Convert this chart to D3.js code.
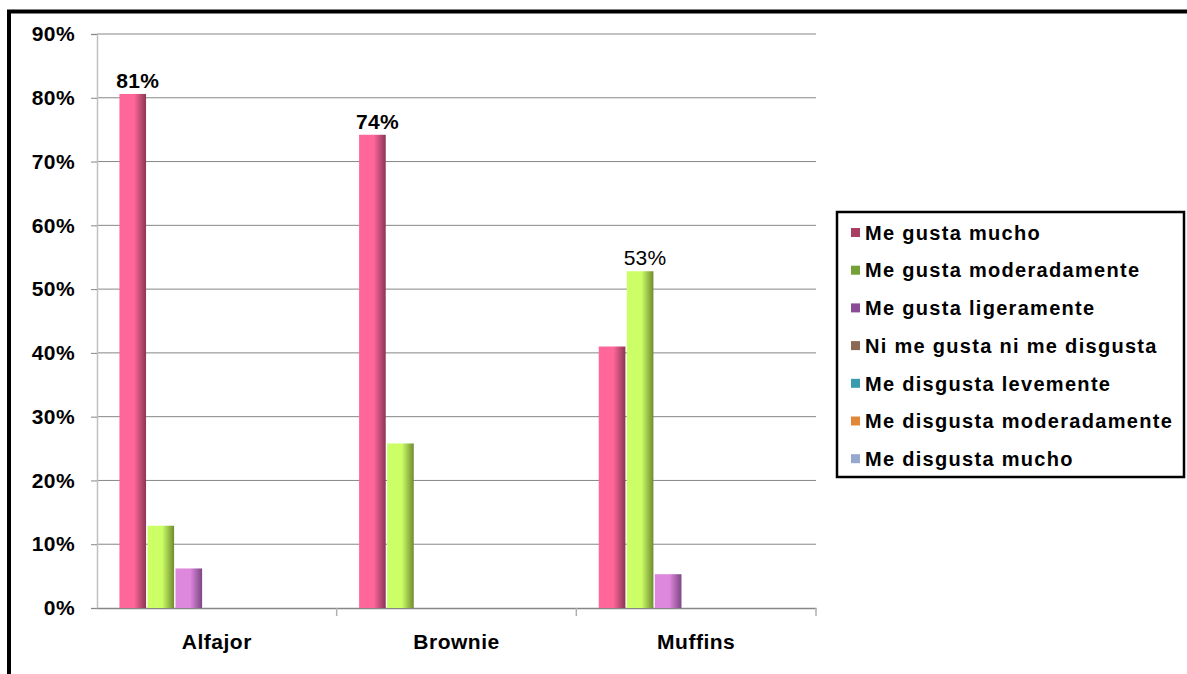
<!DOCTYPE html>
<html>
<head>
<meta charset="utf-8">
<script src="https://cdn.jsdelivr.net/npm/d3@7"></script>
<style>
  html, body { margin: 0; padding: 0; background: #fff; }
  svg { display: block; font-family: "Liberation Sans", Arial, sans-serif; }
</style>
</head>
<body>
<svg id="chart" width="1187" height="674"></svg>
<script>
// Categories, series and values (share of responses, %)
const categories = ["Alfajor", "Brownie", "Muffins"];
const seriesNames = [
  "Me gusta mucho",
  "Me gusta moderadamente",
  "Me gusta ligeramente",
  "Ni me gusta ni me disgusta",
  "Me disgusta levemente",
  "Me disgusta moderadamente",
  "Me disgusta mucho"
];
const meGustaMucho         = [80.6, 74.2, 41.0];
const meGustaModeradamente = [12.9, 25.8, 52.8];
const meGustaLigeramente   = [6.2, 0, 5.3];
const niMeGusta            = [0, 0, 0];
const meDisgustaLevemente  = [0, 0, 0];
const meDisgustaModerada   = [0, 0, 0];
const meDisgustaMucho      = [0, 0, 0];
const seriesValues = [meGustaMucho, meGustaModeradamente, meGustaLigeramente,
  niMeGusta, meDisgustaLevemente, meDisgustaModerada, meDisgustaMucho];
const yTicks = [0, 10, 20, 30, 40, 50, 60, 70, 80, 90];
// Value labels: [series index, category index, bold]
const valueLabels = [[0, 0, true], [0, 1, true], [1, 2, false]];

// Bar fill (light face, shaded edge) and legend swatch colours
const barLight = ["#ff6699", "#ccff66", "#dd88dd", "#b08a6a", "#5bb8cc", "#f79646", "#a8c0e0"];
const barDark  = ["#8a3656", "#6f8c30", "#7e4684", "#7a5a42", "#2f8294", "#c06a20", "#7088b0"];
const swatch   = ["#a83e64", "#74a036", "#8a4c94", "#8a6a52", "#3a9aae", "#e08838", "#94a8d0"];

const svg = d3.select("#chart");
const plot = { left: 97, right: 816, top: 34, bottom: 608 };

const x0 = d3.scaleBand().domain(categories).range([plot.left, plot.right]);
const x1 = d3.scaleBand().domain(d3.range(seriesNames.length))
  .range([0, x0.bandwidth()]).paddingInner(0.05).paddingOuter(0.8);
const y = d3.scaleLinear().domain([0, 90]).range([plot.bottom, plot.top]);

// Gradients giving each bar its shaded right edge
const defs = svg.append("defs");
seriesNames.forEach((s, i) => {
  const g = defs.append("linearGradient").attr("id", "grad" + i)
    .attr("x1", "0%").attr("x2", "100%").attr("y1", "0%").attr("y2", "0%");
  g.append("stop").attr("offset", "0%").attr("stop-color", barLight[i]);
  g.append("stop").attr("offset", "55%").attr("stop-color", barLight[i]);
  g.append("stop").attr("offset", "100%").attr("stop-color", barDark[i]);
});

// Outer frame
svg.append("path")
  .attr("d", `M9,${674 + 5} V11.5 H${1187 + 5}`)
  .attr("fill", "none").attr("stroke", "#000").attr("stroke-width", 4);

// Horizontal gridlines
svg.append("g").selectAll("line").data(yTicks.filter(t => t > 0)).join("line")
  .attr("x1", plot.left).attr("x2", plot.right)
  .attr("y1", d => y(d)).attr("y2", d => y(d))
  .attr("stroke", "#868686").attr("stroke-width", 1);

// Y axis
const yAxis = svg.append("g").attr("transform", `translate(${plot.left},0)`)
  .call(d3.axisLeft(y).tickValues(yTicks).tickFormat(d => d + "%").tickSize(6).tickPadding(16));
yAxis.select(".domain").attr("stroke", "#c0c0c0").attr("stroke-width", 1.5);
yAxis.selectAll(".tick line").attr("stroke", "#868686");
yAxis.selectAll("text")
  .attr("font-size", 21).attr("font-weight", "bold").attr("fill", "#000")
  .attr("letter-spacing", "0.4px").attr("font-family", "Liberation Sans, Arial, sans-serif");

// X axis
const xAxis = svg.append("g").attr("transform", `translate(0,${plot.bottom})`)
  .call(d3.axisBottom(x0).tickSize(0).tickPadding(26));
xAxis.select(".domain").attr("stroke", "#868686").attr("stroke-width", 1.5);
xAxis.selectAll("text")
  .attr("font-size", 21).attr("font-weight", "bold").attr("fill", "#000")
  .attr("letter-spacing", "0.5px").attr("font-family", "Liberation Sans, Arial, sans-serif");
// Category separators
svg.append("g").selectAll("line")
  .data(categories.slice(1).map(c => x0(c)).concat([plot.right])).join("line")
  .attr("x1", d => d).attr("x2", d => d)
  .attr("y1", plot.bottom).attr("y2", plot.bottom + 8)
  .attr("stroke", "#b0b0b0").attr("stroke-width", 1.5);

// Bars
const groups = svg.append("g").selectAll("g").data(categories).join("g")
  .attr("transform", c => `translate(${x0(c)},0)`);
groups.selectAll("rect")
  .data((c, ci) => seriesValues.map((vals, si) => ({ si, v: vals[ci] })))
  .join("rect")
  .attr("x", d => x1(d.si))
  .attr("width", x1.bandwidth())
  .attr("y", d => y(d.v))
  .attr("height", d => y(0) - y(d.v))
  .attr("fill", d => `url(#grad${d.si})`);

// Value labels
const pct = d3.format(".0f");
svg.append("g").selectAll("text").data(valueLabels).join("text")
  .attr("x", d => x0(categories[d[1]]) + x1(d[0]) + x1.bandwidth() / 2 + 5)
  .attr("y", d => y(seriesValues[d[0]][d[1]]) - 6)
  .attr("text-anchor", "middle")
  .attr("font-size", 21)
  .attr("font-weight", d => d[2] ? "bold" : "normal")
  .attr("letter-spacing", "0.3px")
  .text(d => pct(seriesValues[d[0]][d[1]]) + "%");

// Legend
const legend = svg.append("g");
legend.append("rect")
  .attr("x", 837).attr("y", 212).attr("width", 347).attr("height", 265)
  .attr("fill", "#fff").attr("stroke", "#000").attr("stroke-width", 2.5);
const items = legend.selectAll("g.item").data(seriesNames).join("g")
  .attr("class", "item")
  .attr("transform", (d, i) => `translate(0,${232.5 + i * 37.7})`);
items.append("rect")
  .attr("x", 851).attr("y", -4.5).attr("width", 9).attr("height", 9)
  .attr("fill", (d, i) => swatch[i]);
items.append("text")
  .attr("x", 865).attr("y", 0).attr("dy", "0.36em")
  .attr("font-size", 20).attr("font-weight", "bold")
  .attr("letter-spacing", "1.3px")
  .text(d => d);
</script>
</body>
</html>
